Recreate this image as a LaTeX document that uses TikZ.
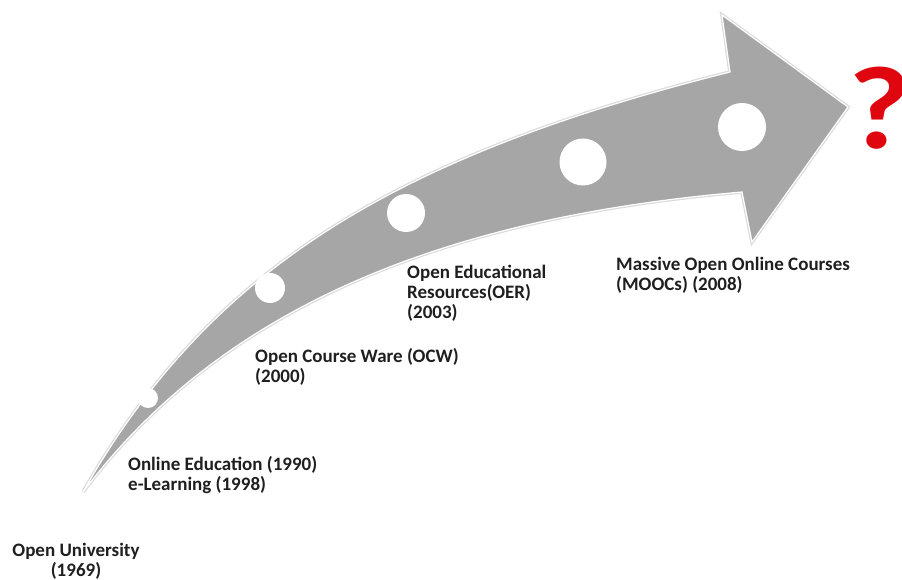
\documentclass[tikz,border=0pt]{standalone}
\usepackage{fontspec}
\setmainfont{Carlito}
\definecolor{arrowgray}{HTML}{A6A6A6}
\definecolor{qred}{HTML}{E0060F}
\begin{document}
\begin{tikzpicture}[x=1pt,y=-1pt,
  lbl/.style={font=\fontsize{19}{20}\selectfont\bfseries, inner sep=0pt, align=left, anchor=base west, text=black!88},
  dot/.style={circle, fill=white, inner sep=0pt}]
\useasboundingbox (0,0) rectangle (902,580);
% arrow outline points
\coordinate (T) at (83,492);
\coordinate (US) at (730,72);
\coordinate (TB) at (722,15);
\coordinate (TIP) at (848,107);
\coordinate (LB) at (752,242);
\coordinate (LS) at (742,192);
\path[fill=arrowgray, draw=white, line width=1.2pt, line join=miter,
      preaction={draw=black!14, line width=3.6pt}]
  (T) .. controls (211,267) and (397,156) .. (US) -- (TB) -- (TIP) -- (LB) -- (LS)
  .. controls (463,216) and (229.5,297) .. (T) -- cycle;
% milestone dots
\node[dot, minimum size=20pt] (c1) at (148,398) {};
\node[dot, minimum size=30pt] (c2) at (270,288) {};
\node[dot, minimum size=38pt] (c3) at (406,213) {};
\node[dot, minimum size=47pt] (c4) at (583,162) {};
\node[dot, minimum size=48pt] (c5) at (742,127) {};
% labels (anchor = baseline of the last line)
\node[lbl, align=center, anchor=base] (ou) at (76,576) {Open University\\(1969)};
\node[lbl] (oe) at (128,490) {Online Education (1990)\\e-Learning (1998)};
\node[lbl] (ocw) at (255,382) {Open Course Ware (OCW)\\(2000)};
\node[lbl] (oer) at (407,318) {Open Educational\\Resources(OER)\\(2003)};
\node[lbl] (mooc) at (616,290) {Massive Open Online Courses\\(MOOCs) (2008)};
% question mark
\node[inner sep=0pt, text=qred, font=\fontsize{118}{118}\selectfont\bfseries] (q) at (880,108) {\makebox[34pt]{\scalebox{1.15}[1]{?}}};
\end{tikzpicture}
\end{document}
